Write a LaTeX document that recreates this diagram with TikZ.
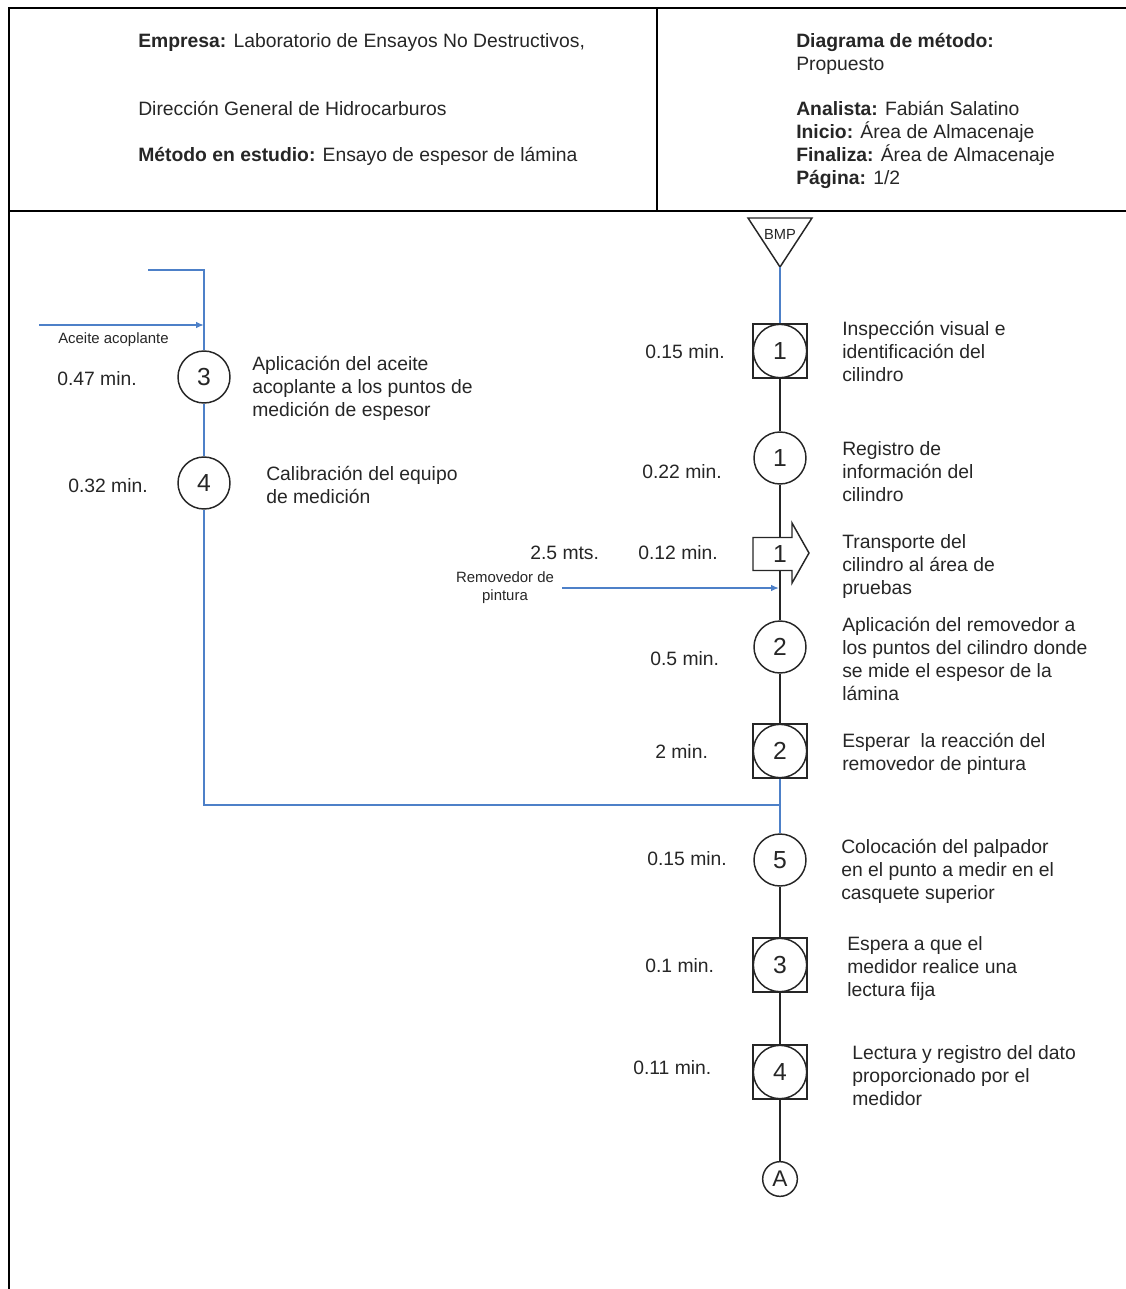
\documentclass[tikz,border=0pt]{standalone}
\usepackage{fontspec}
\setmainfont{Liberation Sans}
\usetikzlibrary{arrows.meta}
\definecolor{ink}{HTML}{262626}
\definecolor{flowblue}{HTML}{4D80C8}
\newcommand\descfont{\fontsize{14.5}{17.25}\selectfont}
\newcommand\notefont{\fontsize{11.2}{13.6}\selectfont}
\newcommand\digitfont{\fontsize{18.5}{20}\selectfont}
\newcommand\bmpfont{\fontsize{11}{13}\selectfont}
\newcommand\conAfont{\fontsize{17}{19}\selectfont}
\begin{document}
\begin{tikzpicture}[x=0.75pt, y=-0.75pt,
  frame/.style={line width=1.8pt, black},
  % multi-line texts are placed by the baseline of their last line
  desc/.style={font=\descfont, text=ink, align=left, inner sep=0pt, anchor=base west},
  note/.style={font=\notefont, text=ink, align=center, inner sep=0pt},
  opcirc/.style={circle, draw=ink, line width=1.1pt, fill=white, minimum size=39pt,
    inner sep=0pt, font=\digitfont, text=ink},
  inspbox/.style={rectangle, draw=ink, line width=1.4pt, fill=white, minimum size=41pt,
    inner sep=0pt, font=\digitfont, text=ink,
    path picture={\draw[ink, line width=1.1pt] (path picture bounding box.center) circle (20pt);}},
  mainline/.style={ink, line width=1.3pt},
  feed/.style={flowblue, line width=1.4pt},
  feedarrow/.style={feed, -{Latex[length=6pt,width=5pt]}}
]
\useasboundingbox (0,0) rectangle (1126,1289);

% frame of the sheet and header
\draw[frame] (9,1289) -- (9,8) -- (1126,8);
\draw[frame] (9,211) -- (1126,211);
\draw[line width=1.2pt] (657,8) -- (657,211);

% header texts
\node[desc] (hemp) at (138,47) {\textbf{Empresa:} Laboratorio de Ensayos No Destructivos,};
\node[desc] (hdir) at (138,115) {Dirección General de Hidrocarburos};
\node[desc] (hmet) at (138,161) {\textbf{Método en estudio:} Ensayo de espesor de lámina};
\node[desc] (hdia) at (796,70) {\textbf{Diagrama de método:}\\Propuesto};
\node[desc] (hana) at (796,184) {\textbf{Analista:} Fabián Salatino\\
  \textbf{Inicio:} Área de Almacenaje\\
  \textbf{Finaliza:} Área de Almacenaje\\
  \textbf{Página:} 1/2};

% storage triangle (start)
\coordinate (bc) at (780,234);
\draw[ink, line width=1.1pt, fill=white] ([shift={(-32,-16)}]bc) -- ([shift={(32,-16)}]bc)
  -- ([shift={(0,33)}]bc) -- cycle;
\node[font=\bmpfont, text=ink, inner sep=0pt] (bmp) at (bc) {BMP};
\coordinate (bmptip) at ([shift={(0,33)}]bc);

% main column
\node[inspbox] (i1) at (780,351) {1};
\node[opcirc] (o1) at (780,458) {1};

% transport arrow
\coordinate (tc) at (780,554);
\draw[ink, line width=1.1pt, fill=white]
  ([shift={(-27,-16.5)}]tc) -- ([shift={(12,-16.5)}]tc) -- ([shift={(12,-31)}]tc)
  -- ([shift={(29,-1)}]tc) -- ([shift={(12,29)}]tc) -- ([shift={(12,16.5)}]tc)
  -- ([shift={(-27,16.5)}]tc) -- cycle;
\node[inner sep=0pt, minimum width=15pt, minimum height=24.75pt, font=\digitfont, text=ink]
  (t1) at (tc) {1};

\node[opcirc] (o2) at (780,647) {2};
\node[inspbox] (i2) at (780,751) {2};
\node[opcirc] (o5) at (780,860) {5};
\node[inspbox] (i3) at (780,965) {3};
\node[inspbox] (i4) at (780,1072) {4};
\node[circle, draw=ink, line width=1.1pt, minimum size=26pt, inner sep=0pt,
  font=\conAfont, text=ink] (conA) at (780,1179) {A};

% side column
\node[opcirc] (o3) at (204,377) {3};
\node[opcirc] (o4) at (204,483) {4};

% connectors of the main column
\draw[feed] (bmptip) -- (i1);
\draw[mainline] (i1) -- (o1);
\draw[mainline] (o1) -- (t1.north);
\draw[mainline] (t1.south) -- (o2);
\draw[mainline] (o2) -- (i2);
\draw[feed] (i2) -- (o5);
\draw[mainline] (o5) -- (i3);
\draw[mainline] (i3) -- (i4);
\draw[mainline] (i4) -- (conA);

% connectors of the side column
\coordinate (ltop) at (148,270);
\coordinate (lcorner) at (204,270);
\coordinate (jn) at (780,805);
\draw[feed] (ltop) -- (lcorner) -- (o3);
\draw[feed] (o3) -- (o4);
\draw[feed] (o4) |- (jn);

% material inputs
\coordinate (oilA) at (39,325);
\coordinate (oilB) at (204,325);
\draw[feedarrow] (oilA) -- (oilB);
\node[note, anchor=west] (oil) at (58,340) {Aceite acoplante};

\coordinate (rmA) at (562,588);
\coordinate (rmB) at (779,588);
\draw[feedarrow] (rmA) -- (rmB);
\node[note] (rm) at (505,588) {Removedor de\\pintura};

% times and distances
\node[desc] (tm1) at (645,358) {0.15 min.};
\node[desc] (tm2) at (642,478) {0.22 min.};
\node[desc] (ds1) at (530,559) {2.5 mts.};
\node[desc] (tm3) at (638,559) {0.12 min.};
\node[desc] (tm4) at (650,665) {0.5 min.};
\node[desc] (tm5) at (655,758) {2 min.};
\node[desc] (tm6) at (647,865) {0.15 min.};
\node[desc] (tm7) at (645,972) {0.1 min.};
\node[desc] (tm8) at (633,1074) {0.11 min.};
\node[desc] (tm9) at (57,385) {0.47 min.};
\node[desc] (tm10) at (68,492) {0.32 min.};

% descriptions
\node[desc] (d1) at (842,381) {Inspección visual e\\identificación del\\cilindro};
\node[desc] (d2) at (842,501) {Registro de\\información del\\cilindro};
\node[desc] (d3) at (842,594) {Transporte del\\cilindro al área de\\pruebas};
\node[desc] (d4) at (842,700) {Aplicación del removedor a\\los puntos del cilindro donde\\se mide el espesor de la\\lámina};
\node[desc] (d5) at (842,770) {Esperar~ la reacción del\\removedor de pintura};
\node[desc] (d6) at (841,899) {Colocación del palpador\\en el punto a medir en el\\casquete superior};
\node[desc] (d7) at (847,996) {Espera a que el\\medidor realice una\\lectura fija};
\node[desc] (d8) at (852,1105) {Lectura y registro del dato\\proporcionado por el\\medidor};
\node[desc] (d9) at (252,416) {Aplicación del aceite\\acoplante a los puntos de\\medición de espesor};
\node[desc] (d10) at (266,503) {Calibración del equipo\\de medición};
\end{tikzpicture}
\end{document}
